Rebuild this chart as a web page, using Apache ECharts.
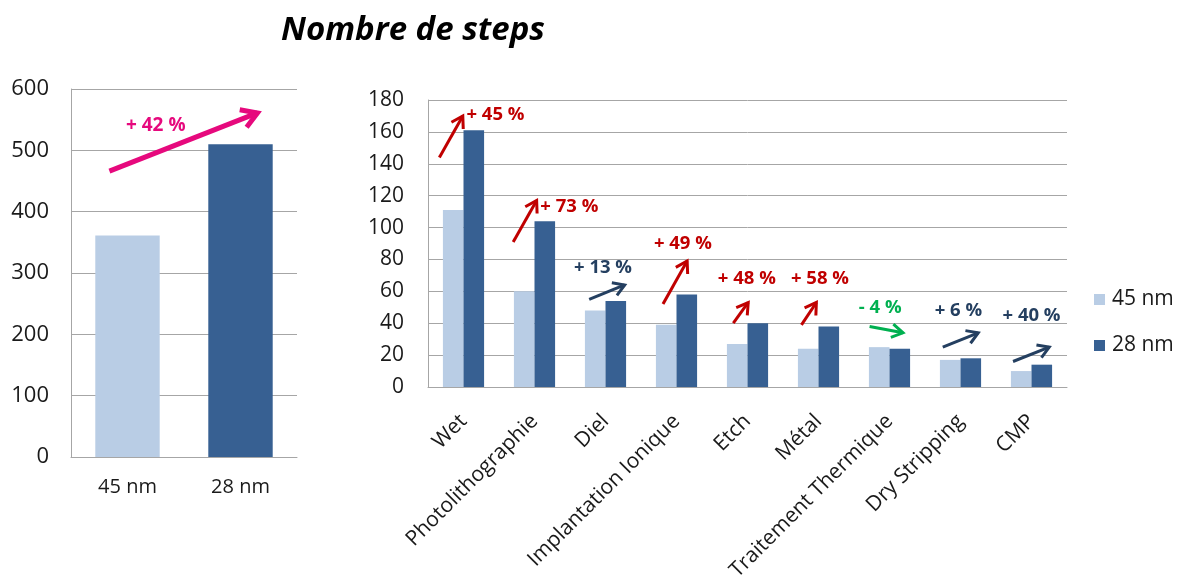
<!DOCTYPE html>
<html>
<head>
<meta charset="utf-8">
<script src="https://cdn.jsdelivr.net/npm/echarts@6/dist/echarts.min.js"></script>
<style>
html,body{margin:0;padding:0;background:#fff;}
#main{width:1179px;height:577px;}
</style>
</head>
<body>
<div id="main"></div>
<script>
// ---- data ----
const totalCategories = ['45 nm', '28 nm'];
const totalSteps = [361, 510];

const stepCategories = ['Wet', 'Photolithographie', 'Diel', 'Implantation Ionique', 'Etch', 'Métal', 'Traitement Thermique', 'Dry Stripping', 'CMP'];
const steps45 = [111, 60, 48, 39, 27, 24, 25, 17, 10];
const steps28 = [161, 104, 54, 58, 40, 38, 24, 18, 14];

const changeLabels = ['+ 45 %', '+ 73 %', '+ 13 %', '+ 49 %', '+ 48 %', '+ 58 %', '- 4 %', '+ 6 %', '+ 40 %'];
const changeKinds = ['strong', 'strong', 'mild', 'strong', 'strong', 'strong', 'down', 'mild', 'mild'];
// arrow start / end / label anchor: [category offset within band, value]
const arrowStart = [[-0.34, 144], [-0.30, 91], [-0.23, 55], [-0.19, 52], [-0.20, 40], [-0.24, 39], [-0.28, 38], [-0.25, 25], [-0.26, 16]];
const arrowEnd = [[-0.01, 170], [0.03, 117], [0.27, 64], [0.15, 79], [0.01, 53], [-0.03, 53], [0.19, 34], [0.25, 34], [0.25, 25]];
const labelAnchor = [[0.45, 171], [0.49, 113], [-0.035, 75], [0.09, 90], [-0.01, 68], [0.02, 68], [-0.13, 50], [-0.03, 48], [0.0, 45]];

const totalLabel = '+ 42 %';
// [category index, offset, value]
const totalArrowStart = [0, -0.16, 466];
const totalArrowEnd = [1, 0.15, 561];
const totalLabelAnchor = [0, 0.25, 541];

// ---- styles ----
const FONT = 'Open Sans';
const C45 = '#b9cde5';
const C28 = '#376092';
const kindColor = { strong: '#c00000', mild: '#243f60', down: '#00b050' };
const PINK = '#e6097d';

function arrowShapes(a, b, color, width, head) {
  const ang = Math.atan2(b[1] - a[1], b[0] - a[0]);
  const h1 = [b[0] - head * Math.cos(ang - 0.55), b[1] - head * Math.sin(ang - 0.55)];
  const h2 = [b[0] - head * Math.cos(ang + 0.55), b[1] - head * Math.sin(ang + 0.55)];
  const st = { stroke: color, lineWidth: width, fill: null, lineCap: 'butt', lineJoin: 'miter' };
  return [
    { type: 'line', shape: { x1: a[0], y1: a[1], x2: b[0], y2: b[1] }, style: st },
    { type: 'polyline', shape: { points: [h1, b, h2] }, style: st }
  ];
}

const rightAnnData = stepCategories.map((c, i) => [i, arrowStart[i][0], arrowStart[i][1], arrowEnd[i][0], arrowEnd[i][1], labelAnchor[i][0], labelAnchor[i][1]]);

const chart = echarts.init(document.getElementById('main'), null, { renderer: 'canvas' });

const labelColor = '#1a1a1a';
const gridLineColor = '#a6a6a6';

chart.setOption({
  animation: false,
  backgroundColor: '#fff',
  title: {
    text: 'Nombre de steps',
    left: 408, top: 9, textAlign: 'center',
    textStyle: { fontFamily: FONT, fontSize: 33, fontWeight: 'bold', fontStyle: 'italic', color: '#000' }
  },
  legend: {
    data: ['45 nm', '28 nm'],
    orient: 'vertical',
    left: 1089, top: 284,
    itemWidth: 11, itemHeight: 11, itemGap: 25,
    icon: 'rect',
    textStyle: { fontFamily: FONT, fontSize: 21, color: labelColor, padding: [0, 0, 0, 2] }
  },
  grid: [
    { left: 71, right: 882, top: 89, bottom: 120, containLabel: false, outerBoundsMode: 'none' },
    { left: 428, right: 112, top: 100, bottom: 190, containLabel: false, outerBoundsMode: 'none' }
  ],
  xAxis: [
    {
      type: 'category', gridIndex: 0, data: totalCategories,
      axisLine: { lineStyle: { color: gridLineColor } },
      axisTick: { length: 6, lineStyle: { color: gridLineColor } },
      axisLabel: { margin: 20, fontFamily: FONT, fontSize: 20, color: labelColor }
    },
    {
      type: 'category', gridIndex: 1, data: stepCategories,
      axisLine: { lineStyle: { color: gridLineColor } },
      axisTick: { length: 6, lineStyle: { color: gridLineColor } },
      axisLabel: { margin: 31, rotate: 45, interval: 0, fontFamily: FONT, fontSize: 21, color: labelColor }
    }
  ],
  yAxis: [
    {
      type: 'value', gridIndex: 0, min: 0, max: 600, interval: 100,
      axisLine: { show: true, lineStyle: { color: gridLineColor } },
      axisTick: { show: false },
      splitLine: { lineStyle: { color: gridLineColor } },
      axisLabel: { margin: 22, fontFamily: FONT, fontSize: 22, color: labelColor }
    },
    {
      type: 'value', gridIndex: 1, min: 0, max: 180, interval: 20,
      axisLine: { show: true, lineStyle: { color: gridLineColor } },
      axisTick: { show: false },
      splitLine: { lineStyle: { color: gridLineColor } },
      axisLabel: { margin: 24, fontFamily: FONT, fontSize: 21, color: labelColor }
    }
  ],
  series: [
    {
      type: 'bar', xAxisIndex: 0, yAxisIndex: 0, barWidth: '57%',
      data: totalSteps.map((v, i) => ({ value: v, itemStyle: { color: i === 0 ? C45 : C28 } }))
    },
    {
      name: '45 nm', type: 'bar', xAxisIndex: 1, yAxisIndex: 1,
      barGap: '0%', barCategoryGap: '42%', itemStyle: { color: C45 }, data: steps45
    },
    {
      name: '28 nm', type: 'bar', xAxisIndex: 1, yAxisIndex: 1,
      barGap: '0%', barCategoryGap: '42%', itemStyle: { color: C28 }, data: steps28
    },
    {
      type: 'custom', xAxisIndex: 1, yAxisIndex: 1, silent: true, clip: false, z: 10,
      encode: { x: 0, y: 2 },
      data: rightAnnData,
      renderItem: function (params, api) {
        const cat = api.value(0);
        const bw = api.size([1, 0])[0];
        const pt = (dx, v) => { const c = api.coord([cat, v]); return [c[0] + dx * bw, c[1]]; };
        const a = pt(api.value(1), api.value(2));
        const b = pt(api.value(3), api.value(4));
        const t = pt(api.value(5), api.value(6));
        const color = kindColor[changeKinds[params.dataIndex]];
        const children = arrowShapes(a, b, color, 3, 13);
        children.push({
          type: 'text', x: t[0], y: t[1],
          style: { text: changeLabels[params.dataIndex], fill: color, font: 'bold 18.5px "' + FONT + '"', align: 'center', verticalAlign: 'middle' }
        });
        return { type: 'group', children: children };
      }
    },
    {
      type: 'custom', xAxisIndex: 0, yAxisIndex: 0, silent: true, clip: false, z: 10,
      encode: { x: 0, y: 2 },
      data: [[totalArrowStart[0], totalArrowStart[1], totalArrowStart[2], totalArrowEnd[0], totalArrowEnd[1], totalArrowEnd[2], totalLabelAnchor[0], totalLabelAnchor[1], totalLabelAnchor[2]]],
      renderItem: function (params, api) {
        const bw = api.size([1, 0])[0];
        const pt = (cat, dx, v) => { const c = api.coord([cat, v]); return [c[0] + dx * bw, c[1]]; };
        const a = pt(api.value(0), api.value(1), api.value(2));
        const b = pt(api.value(3), api.value(4), api.value(5));
        const t = pt(api.value(6), api.value(7), api.value(8));
        const children = arrowShapes(a, b, PINK, 5, 18);
        children.push({
          type: 'text', x: t[0], y: t[1],
          style: { text: totalLabel, fill: PINK, font: 'bold 19px "' + FONT + '"', align: 'center', verticalAlign: 'middle' }
        });
        return { type: 'group', children: children };
      }
    }
  ]
});
</script>
</body>
</html>
